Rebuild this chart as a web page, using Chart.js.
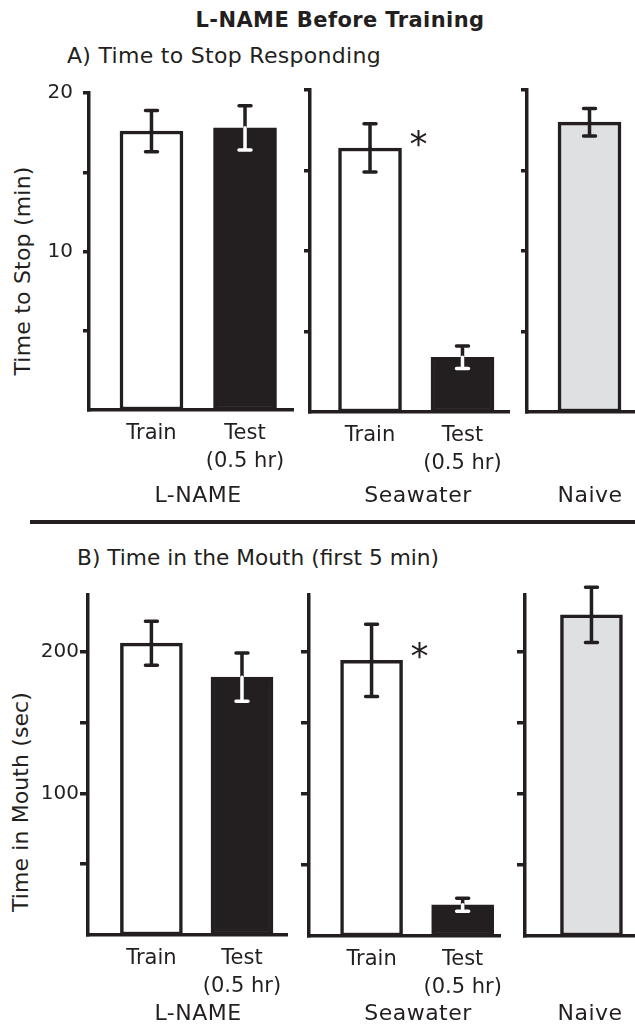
<!DOCTYPE html>
<html>
<head>
<meta charset="utf-8">
<title>L-NAME Before Training</title>
<script src="https://cdn.jsdelivr.net/npm/chart.js@4.4.1/dist/chart.umd.min.js"></script>
<style>
  html, body { margin: 0; padding: 0; background: #fff; }
  #page { position: relative; width: 635px; height: 1026px; overflow: hidden;
          font-family: "DejaVu Sans", sans-serif; color: #231f20; }
  #page canvas { position: absolute; }
  .txt { position: absolute; white-space: nowrap; font-size: 22px; line-height: 1; }
  .mid { transform: translate(-50%, -50%); }
  .left { transform: translate(0, -50%); }
  .rot { transform: translate(-50%, -50%) rotate(-90deg); }
  .rule { position: absolute; background: #231f20; }
</style>
</head>
<body>
<div id="page">
  <div class="txt mid" style="left:340px; top:20px; font-weight:bold; font-size:21px; letter-spacing:0.4px;">L-NAME Before Training</div>
  <div class="txt left" style="left:67px; top:56px; letter-spacing:0.3px;">A) Time to Stop Responding</div>
  <div class="txt rot" style="left:23px; top:271px; letter-spacing:0.2px;">Time to Stop (min)</div>
  <div class="rule" style="left:30px; top:520px; width:605px; height:4px;"></div>
  <div class="txt left" style="left:77px; top:558px; font-size:21.7px;">B) Time in the Mouth (first 5 min)</div>
  <div class="txt rot" style="left:21px; top:802px; letter-spacing:0.1px;">Time in Mouth (sec)</div>

  <canvas id="stopLname" width="300" height="430" style="left:0; top:80px;"></canvas>
  <canvas id="stopSea" width="215" height="430" style="left:300px; top:80px;"></canvas>
  <canvas id="stopNaive" width="120" height="430" style="left:515px; top:80px;"></canvas>
  <canvas id="mouthLname" width="300" height="446" style="left:0; top:580px;"></canvas>
  <canvas id="mouthSea" width="215" height="446" style="left:300px; top:580px;"></canvas>
  <canvas id="mouthNaive" width="120" height="446" style="left:515px; top:580px;"></canvas>
</div>
<script>
const INK = '#231f20';
const GREY = '#dfe0e2';
const FONT = '"DejaVu Sans", sans-serif';

// A) time to stop responding (min), mean and SEM
const lnameStop = [17.6, 17.8];
const lnameStopErr = [1.3, 1.4];
const seaStop = [16.4, 3.4];
const seaStopErr = [1.5, 0.7];
const naiveStop = [18.0];
const naiveStopErr = [0.85];

// B) time in the mouth, first 5 min (sec)
const lnameMouth = [206, 182];
const lnameMouthErr = [15.5, 17];
const seaMouth = [194, 22];
const seaMouthErr = [25.5, 4.5];
const naiveMouth = [226];
const naiveMouthErr = [19.5];

const pairLabels = ['Train', ['Test', '(0.5 hr)']];
const naiveLabels = [''];
const groupNames = ['L-NAME', 'Seawater', 'Naive'];
const pairFills = ['#ffffff', INK];
const naiveFills = [GREY];
const seaStars = ['*', ''];

const stopTicks = [5, 10, 15, 20];
const stopTickLabels = ['', '10', '', '20'];
const mouthTicks = [50, 100, 150, 200];
const mouthTickLabels = ['', '100', '', '200'];

// error bars: part above the bar in black, part inside a black bar in white
const errorBars = {
    id: 'errorBars',
    afterDatasetsDraw(chart) {
        const ctx = chart.ctx;
        const ds = chart.data.datasets[0];
        const y = chart.scales.y;
        ctx.save();
        ctx.lineWidth = 3.5;
        ctx.lineCap = 'round';
        chart.getDatasetMeta(0).data.forEach(function (bar, i) {
            const v = ds.data[i].y, e = ds.errors[i];
            const yv = y.getPixelForValue(v);
            const ends = [[y.getPixelForValue(v + e), INK],
                          [y.getPixelForValue(v - e), ds.backgroundColor[i] === INK ? '#ffffff' : INK]];
            ends.forEach(function (end) {
                ctx.strokeStyle = end[1];
                ctx.beginPath();
                ctx.moveTo(bar.x, yv);
                ctx.lineTo(bar.x, end[0]);
                ctx.moveTo(bar.x - 6, end[0]);
                ctx.lineTo(bar.x + 6, end[0]);
                ctx.stroke();
            });
            if (ds.stars && ds.stars[i]) {
                ctx.fillStyle = INK;
                ctx.font = '36px ' + FONT;
                ctx.textAlign = 'center';
                ctx.textBaseline = 'alphabetic';
                ctx.fillText(ds.stars[i], bar.x + bar.width / 2 + 17, bar.y + 8);
            }
        });
        ctx.restore();
    }
};

function buildChart(id, cfg) {
    return new Chart(document.getElementById(id), {
        type: 'bar',
        data: {
            datasets: [{
                data: cfg.values.map(function (v, i) { return {x: i, y: v}; }),
                errors: cfg.errors,
                stars: cfg.stars,
                backgroundColor: cfg.fills,
                borderColor: INK,
                borderWidth: 3.5,
                borderSkipped: false,
                barThickness: cfg.barWidth
            }]
        },
        options: {
            responsive: false,
            animation: false,
            events: [],
            layout: {padding: {top: cfg.padTop, right: cfg.padRight, left: 0, bottom: 0}},
            plugins: {legend: {display: false}, tooltip: {enabled: false}},
            scales: {
                x: {
                    type: 'linear', min: cfg.xMin, max: cfg.xMax, offset: false,
                    grid: {display: false, drawTicks: false},
                    border: {display: true, color: INK, width: 3.5},
                    ticks: {
                        color: INK, padding: 9, maxRotation: 0, autoSkip: false,
                        font: {family: FONT, size: 21, lineHeight: 1.35},
                        callback: function (v) { return cfg.labels[v] || ''; }
                    },
                    afterBuildTicks: function (s) {
                        s.ticks = cfg.labels.map(function (l, i) { return {value: i}; });
                    },
                    afterFit: function (s) {
                        s.height = cfg.xHeight; s.paddingLeft = 0; s.paddingRight = 0;
                    }
                },
                y: {
                    min: 0, max: cfg.yMax,
                    grid: {drawOnChartArea: false, drawTicks: true, tickLength: cfg.tickLen,
                           color: INK, lineWidth: 3.5},
                    border: {display: true, color: INK, width: 3.5},
                    ticks: {
                        display: cfg.showLabels, color: INK, padding: cfg.labelPad,
                        font: {family: FONT, size: 20},
                        callback: function (v, i) { return cfg.tickLabels[i]; }
                    },
                    afterBuildTicks: function (s) {
                        s.ticks = cfg.ticks.map(function (t) { return {value: t}; });
                    },
                    afterFit: function (s) {
                        s.width = cfg.yWidth; s.paddingTop = 0; s.paddingBottom = 0;
                    }
                }
            }
        },
        plugins: [errorBars]
    });
}

const stopAxis = {yMax: 20, ticks: stopTicks, tickLabels: stopTickLabels, tickLen: 6, labelPad: 10};
const mouthAxis = {yMax: 240, ticks: mouthTicks, tickLabels: mouthTickLabels, tickLen: 8, labelPad: 1};

buildChart('stopLname', Object.assign({}, stopAxis, {
    values: lnameStop, errors: lnameStopErr, fills: pairFills, labels: pairLabels, showLabels: true,
    yWidth: 89, padTop: 13, padRight: 7, xHeight: 100, xMin: -0.668, xMax: 1.513, barWidth: 63}));
buildChart('stopSea', Object.assign({}, stopAxis, {
    values: seaStop, errors: seaStopErr, fills: pairFills, labels: pairLabels, stars: seaStars, showLabels: false,
    yWidth: 10, padTop: 10, padRight: 6, xHeight: 98, xMin: -0.649, xMax: 1.503, barWidth: 63}));
buildChart('stopNaive', Object.assign({}, stopAxis, {
    values: naiveStop, errors: naiveStopErr, fills: naiveFills, labels: naiveLabels, showLabels: false,
    yWidth: 12, padTop: 10, padRight: 0, xHeight: 98, xMin: -0.672, xMax: 0.489, barWidth: 63}));

buildChart('mouthLname', Object.assign({}, mouthAxis, {
    values: lnameMouth, errors: lnameMouthErr, fills: pairFills, labels: pairLabels, showLabels: true,
    yWidth: 88, padTop: 15, padRight: 13, xHeight: 91, xMin: -0.70, xMax: 1.497, barWidth: 62}));
buildChart('mouthSea', Object.assign({}, mouthAxis, {
    values: seaMouth, errors: seaMouthErr, fills: pairFills, labels: pairLabels, stars: seaStars, showLabels: false,
    yWidth: 9, padTop: 15, padRight: 15, xHeight: 90, xMin: -0.687, xMax: 1.41, barWidth: 62}));
buildChart('mouthNaive', Object.assign({}, mouthAxis, {
    values: naiveMouth, errors: naiveMouthErr, fills: naiveFills, labels: naiveLabels, showLabels: false,
    yWidth: 10, padTop: 15, padRight: 0, xHeight: 90, xMin: -0.73, xMax: 0.478, barWidth: 62}));

// group names under each block of bars
const page = document.getElementById('page');
const groupX = [198, 418, 590];
[495, 1013].forEach(function (top) {
    groupNames.forEach(function (name, i) {
        const d = document.createElement('div');
        d.className = 'txt mid';
        d.style.cssText = 'left:' + groupX[i] + 'px; top:' + top + 'px; letter-spacing:0.5px;';
        d.textContent = name;
        page.appendChild(d);
    });
});
</script>
</body>
</html>
